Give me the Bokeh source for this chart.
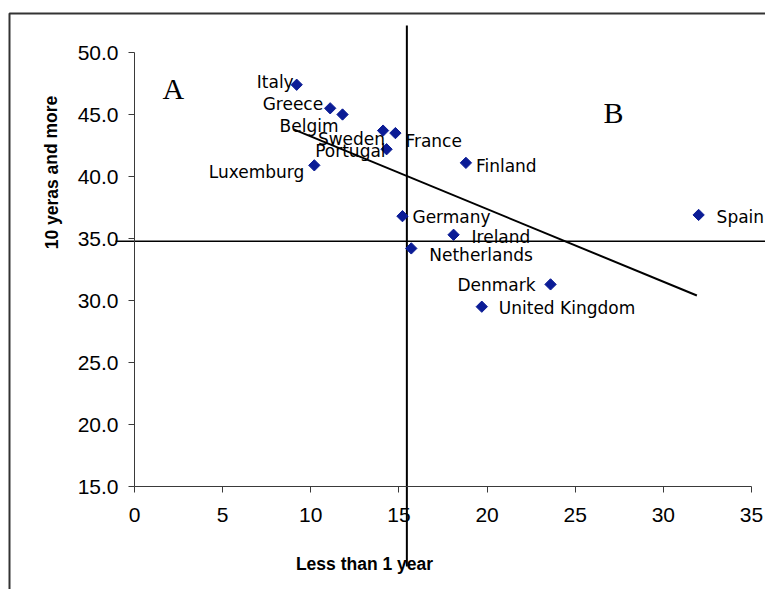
from bokeh.plotting import figure
from bokeh.models import (Range1d, ColumnDataSource, LabelSet, Label,
                          NumeralTickFormatter, FixedTicker)
from bokeh.embed import file_html
from bokeh.resources import INLINE
from bokeh.core.properties import value

# ---- data ----
countries = ["Italy", "Greece", "Belgim", "Sweden", "Portugal", "Luxemburg",
             "France", "Finland", "Germany", "Spain", "Ireland", "Netherlands",
             "Denmark", "United Kingdom"]
less_than_1_year = [9.2, 11.1, 11.8, 14.1, 14.3, 10.2,
                    14.8, 18.8, 15.2, 32.0, 18.1, 15.7,
                    23.6, 19.7]
ten_years_and_more = [47.4, 45.5, 45.0, 43.7, 42.2, 40.9,
                      43.5, 41.1, 36.8, 36.9, 35.3, 34.2,
                      31.3, 29.5]
x_ticks = [0, 5, 10, 15, 20, 25, 30, 35]
y_ticks = [15, 20, 25, 30, 35, 40, 45, 50]
x_axis_range = (0, 35)
y_axis_range = (15, 50)
divider_x = 15.45
divider_y = 34.78
trend_x = [9.03, 31.9]
trend_y = [43.8, 30.4]

# label placement (style only)
label_align = ["right", "right", "right", "right", "right", "right",
               "left", "left", "left", "left", "left", "left",
               "right", "left"]
label_dx = [-3, -7, -4, 2, -1, -10, 10, 10, 10, 18, 18, 18, -15, 17]
label_dy = [-3, -2, -17, -14, -8, -13, -14, -9.5, -7, -8.5, -8, -13, -7, -7]

# ---- layout: the frame fills the whole canvas; axes sit at fixed locations ----
W, H = 765, 589
plot_left, plot_top, plot_w, plot_h = 134, 52, 617, 434
sx = plot_w / (x_axis_range[1] - x_axis_range[0])
sy = plot_h / (y_axis_range[1] - y_axis_range[0])
x0 = x_axis_range[0] - plot_left / sx
x1 = x_axis_range[0] + (W - plot_left) / sx
y1 = y_axis_range[1] + plot_top / sy
y0 = y_axis_range[1] - (H - plot_top) / sy

def px_x(px):
    return x_axis_range[0] + (px - plot_left) / sx

def px_y(py):
    return y_axis_range[1] - (py - plot_top) / sy

p = figure(width=W, height=H, output_backend="svg", toolbar_location=None,
           x_range=Range1d(x0, x1), y_range=Range1d(y0, y1),
           min_border=0)
p.outline_line_color = None
p.xgrid.visible = False
p.ygrid.visible = False
p.background_fill_color = "white"
p.border_fill_color = "white"

axis_col = "#3a3a3a"
for ax in (p.xaxis[0], p.yaxis[0]):
    ax.axis_line_color = axis_col
    ax.axis_line_width = 1
    ax.major_tick_line_color = axis_col
    ax.major_tick_out = 6
    ax.major_tick_in = 0
    ax.minor_tick_line_color = None
    ax.major_label_text_font = "Liberation Sans"
    ax.major_label_text_font_size = "21px"
    ax.major_label_text_color = "black"
p.xaxis[0].ticker = FixedTicker(ticks=x_ticks)
p.yaxis[0].ticker = FixedTicker(ticks=y_ticks)
p.xaxis[0].bounds = x_axis_range
p.yaxis[0].bounds = y_axis_range
p.xaxis[0].fixed_location = y_axis_range[0]
p.yaxis[0].fixed_location = x_axis_range[0]
p.yaxis[0].formatter = NumeralTickFormatter(format="0.0")
p.yaxis[0].major_label_standoff = 10
p.xaxis[0].major_label_standoff = 15

# outer chart border (top and left edges visible)
p.line([px_x(9), px_x(9), px_x(W + 20)], [px_y(H + 20), px_y(13), px_y(13)],
       line_color="#333333", line_width=2)

# quadrant divider lines (extend beyond the axes)
p.line([divider_x, divider_x], [px_y(25), px_y(566)], line_color="black", line_width=2)
p.line([px_x(115), px_x(768)], [divider_y, divider_y], line_color="black", line_width=1.5)

# trend line
p.line(trend_x, trend_y, line_color="black", line_width=2)

src = ColumnDataSource(dict(x=less_than_1_year, y=ten_years_and_more,
                            name=countries, align=label_align,
                            dx=label_dx, dy=label_dy))
p.scatter("x", "y", source=src, marker="square", size=8, angle=0.785398,
          fill_color="#0b1c96", line_color="#0b1c96")

p.add_layout(LabelSet(x="x", y="y", text="name", source=src,
                      x_offset="dx", y_offset="dy", text_align="align",
                      text_baseline="alphabetic",
                      text_font=value("DejaVu Sans"), text_font_size="17px",
                      text_color="black"))

# quadrant letters
p.add_layout(Label(x=px_x(162), y=px_y(88), text="A", text_font="Liberation Serif",
                   text_font_size="30px", text_baseline="alphabetic", text_color="black"))
p.add_layout(Label(x=px_x(603), y=px_y(112), text="B", text_font="Liberation Serif",
                   text_font_size="30px", text_baseline="alphabetic", text_color="black"))

# axis titles
p.add_layout(Label(x=px_x(364), y=px_y(563), text="Less than 1 year",
                   text_font="Liberation Sans", text_font_style="bold",
                   text_font_size="17.5px", text_align="center",
                   text_baseline="alphabetic", text_color="black"))
p.add_layout(Label(x=px_x(51), y=px_y(172), text="10 yeras and more", angle=1.5708,
                   text_font="Liberation Sans", text_font_style="bold",
                   text_font_size="17.5px", text_align="center",
                   text_baseline="alphabetic", text_color="black"))

open("out.html", "w").write(file_html(p, INLINE))
